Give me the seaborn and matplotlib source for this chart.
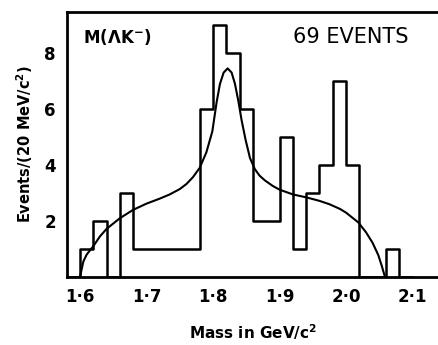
import numpy as np
import pandas as pd
import matplotlib
matplotlib.use("Agg")
import matplotlib.pyplot as plt
import seaborn as sns

# ---- data ----
bin_left = [1.60, 1.62, 1.64, 1.66, 1.68, 1.70, 1.72, 1.74, 1.76, 1.78,
            1.80, 1.82, 1.84, 1.86, 1.88, 1.90, 1.92, 1.94, 1.96, 1.98,
            2.00, 2.02, 2.04, 2.06]
counts = [1, 2, 0, 3, 1, 1, 1, 1, 1, 6,
          9, 8, 6, 2, 2, 5, 1, 3, 4, 7,
          4, 0, 0, 1]
bin_width = 0.02

curve_mass = [1.600, 1.605, 1.610, 1.620, 1.630, 1.640, 1.660, 1.680, 1.700,
              1.720, 1.735, 1.750, 1.760, 1.770, 1.780, 1.790, 1.799,
              1.8055, 1.8105, 1.816, 1.822, 1.828, 1.833, 1.838, 1.843,
              1.849, 1.8556, 1.863, 1.870, 1.878, 1.890, 1.900, 1.920,
              1.941, 1.960, 1.975, 1.991, 2.000, 2.0185, 2.030, 2.040,
              2.0486, 2.054, 2.0586]
curve_events = [0.0, 0.55, 0.8, 1.1, 1.45, 1.72, 2.1, 2.4, 2.62,
                2.8, 2.95, 3.14, 3.32, 3.57, 3.9, 4.45, 5.2,
                6.25, 6.9, 7.3, 7.45, 7.3, 6.9, 6.3, 5.6,
                4.9, 4.25, 3.85, 3.62, 3.45, 3.25, 3.12, 2.95,
                2.84, 2.72, 2.6, 2.43, 2.3, 1.95, 1.6, 1.22,
                0.78, 0.38, 0.0]

x_ticks = [1.6, 1.7, 1.8, 1.9, 2.0, 2.1]
x_tick_labels = ["1·6", "1·7", "1·8", "1·9", "2·0", "2·1"]
y_ticks = [2, 4, 6, 8]
y_tick_labels = ["2", "4", "6", "8"]

# ---- figure ----
sns.set_style("white")
plt.rcParams["font.family"] = ["DejaVu Sans"]
plt.rcParams.update({"text.color": "black", "axes.labelcolor": "black",
                     "xtick.color": "black", "ytick.color": "black"})

W, H = 438, 345
fig = plt.figure(figsize=(W / 100, H / 100), dpi=100)
ax_left, ax_right, ax_top, ax_bot = 67, 440, 12, 277
ax = fig.add_axes([ax_left / W, (H - ax_bot) / H,
                   (ax_right - ax_left) / W, (ax_bot - ax_top) / H])

edges = [round(1.58 + i * bin_width, 4) for i in range(27)]
hist_df = pd.DataFrame({"mass": np.array(bin_left) + bin_width / 2,
                        "n": counts})
sns.histplot(data=hist_df, x="mass", weights="n", bins=edges,
             element="step", fill=False, color="black", linewidth=1.8,
             ax=ax)

curve_df = pd.DataFrame({"mass": curve_mass, "events": curve_events})
sns.lineplot(data=curve_df, x="mass", y="events", sort=False,
             color="black", linewidth=1.5, ax=ax)

px = 0.1 / 66.5
ax.set_xlim(1.6 - 13 * px, 1.6 + (ax_right - 80) * px)
ax.set_ylim(0, (ax_bot - ax_top) / 28.0)

ax.set_xticks(x_ticks)
ax.set_xticklabels(x_tick_labels, fontsize=12, fontweight="bold")
ax.set_yticks(y_ticks)
ax.set_yticklabels(y_tick_labels, fontsize=12, fontweight="bold")
ax.tick_params(axis="both", direction="inout", length=10, width=1.8,
               color="black", labelcolor="black", pad=3)
for s in ["left", "bottom", "top"]:
    ax.spines[s].set_linewidth(2)
    ax.spines[s].set_color("black")
ax.spines["right"].set_visible(False)

ax.set_xlabel("Mass in GeV/c$^{\\mathbf{2}}$", fontsize=11, fontweight="bold",
              labelpad=12)
ax.set_ylabel("Events/(20 MeV/c$^{\\mathbf{2}}$)", fontsize=10.5,
              fontweight="bold", labelpad=7)

fig.text(83 / W, 1 - 37 / H, "M(ΛK$^{\\mathbf{-}}$)",
         fontsize=12, fontweight="bold", va="center", ha="left")
fig.text(351 / W, 1 - 37 / H, "69 EVENTS",
         fontsize=15, fontweight="medium", va="center", ha="center")

fig.savefig("out.png", dpi=100)
